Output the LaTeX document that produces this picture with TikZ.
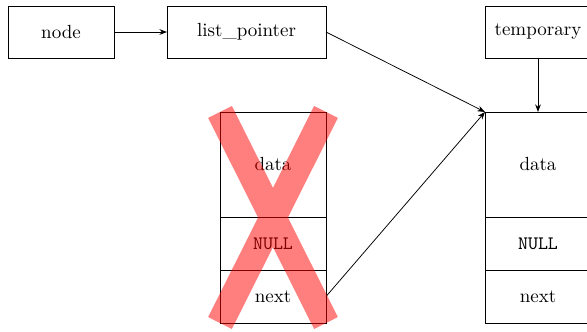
\documentclass[tikz,border=0pt]{standalone}
\usetikzlibrary{arrows.meta}
\begin{document}
\begin{tikzpicture}[x=0.5263pt,y=-0.5263pt,
  box/.style={draw, rectangle, inner sep=0pt, outer sep=0pt, minimum width=55.8pt},
  conn/.style={-{Stealth[length=4pt,width=3pt]}},
  cross/.style={draw=red, opacity=0.5, line width=14pt}]
\useasboundingbox (0,0) rectangle (587,331);
\node[box, minimum height=27.4pt] (nd) at (61,32) {node};
\node[box, minimum height=27.4pt, minimum width=83.7pt] (lp) at (246.5,32) {list\_pointer};
\node[box, minimum height=27.4pt] (tmp) at (538,32) {temporary};
\node[box, minimum height=55.3pt] (ldata) at (273,164.5) {data};
\node[box, minimum height=27.9pt] (lnull) at (273,243.5) {\texttt{NULL}};
\node[box, minimum height=27.9pt] (lnext) at (273,296.5) {next};
\node[box, minimum height=55.3pt] (rdata) at (538,164.5) {data};
\node[box, minimum height=27.9pt] (rnull) at (538,243.5) {\texttt{NULL}};
\node[box, minimum height=27.9pt] (rnext) at (538,296.5) {next};
\draw[conn] (nd) -- (lp);
\draw[conn] (lp.east) -- (rdata.north west);
\draw[conn] (tmp) -- (rdata);
\draw[conn] (lnext.east) -- (rdata.north west);
\path[cross] (ldata.north west) -- (lnext.south east) (ldata.north east) -- (lnext.south west);
\end{tikzpicture}
\end{document}
